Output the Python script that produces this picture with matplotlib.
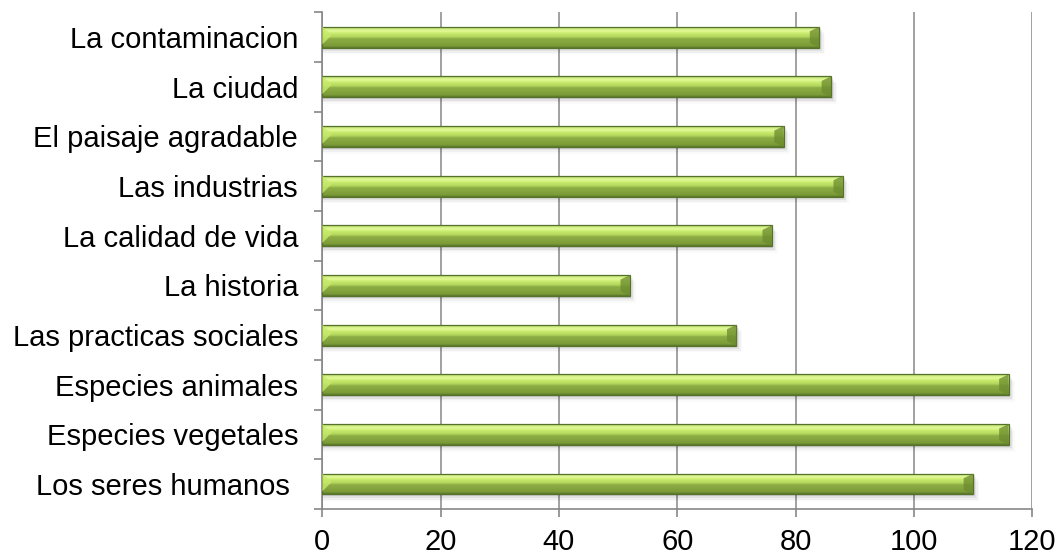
import numpy as np
import matplotlib
matplotlib.use("Agg")
import matplotlib.pyplot as plt
from matplotlib.colors import LinearSegmentedColormap
from matplotlib.patches import Polygon

categories = ["Los seres humanos ", "Especies vegetales", "Especies animales",
              "Las practicas sociales", "La historia", "La calidad de vida",
              "Las industrias", "El paisaje agradable", "La ciudad", "La contaminacion"]
values = [110, 116, 116, 70, 52, 76, 88, 78, 86, 84]
xticks = [0, 20, 40, 60, 80, 100, 120]

plt.rcParams['font.family'] = ['Liberation Sans', 'DejaVu Sans']

fig = plt.figure(figsize=(10.62, 5.58), dpi=100)
ax = fig.add_axes([0.3035, 0.088, 0.6685, 0.89])

ypos = np.arange(len(categories))
bh = 0.42
grid_c = "#878787"

# gradient colormap (bottom -> top of bar)
cmap = LinearSegmentedColormap.from_list("bar", [
    (0.0, "#5b7828"), (0.10, "#7c9b38"), (0.45, "#8dae45"),
    (0.52, "#b0d45c"), (0.70, "#c8ea6c"), (0.82, "#e2fa98"),
    (0.92, "#cfec80"), (1.0, "#a8c868")])
grad = np.linspace(0, 1, 64).reshape(-1, 1)

bars = ax.barh(ypos, values, height=bh, color="none", edgecolor="none", zorder=3)
for b in bars:
    x0, y0, w, h = b.get_x(), b.get_y(), b.get_width(), b.get_height()
    # soft shadow
    for k, a in enumerate([0.09, 0.06, 0.04, 0.02]):
        ax.add_patch(plt.Rectangle((x0, y0 - 0.035 * (k + 1)), w + 0.25 * (k + 1), h,
                                   facecolor="#000000", alpha=a, edgecolor="none", zorder=2))
    im = ax.imshow(grad, cmap=cmap, aspect="auto", origin="lower",
                   extent=(x0, x0 + w, y0, y0 + h), zorder=3, interpolation="bilinear")
    im.set_clip_path(b)
    ax.add_patch(plt.Rectangle((x0, y0), w, h, facecolor="none",
                               edgecolor="#56722a", linewidth=0.9, zorder=4))
    # bevel ends
    d = 1.6
    ax.add_patch(Polygon([(x0 + w, y0), (x0 + w, y0 + h), (x0 + w - d, y0 + h * 0.78),
                          (x0 + w - d, y0 + h * 0.22)], closed=True,
                         facecolor="#6b8a2e", edgecolor="none", alpha=0.75, zorder=4))
    ax.add_patch(Polygon([(x0, y0 + h * 0.15), (x0, y0 + h), (x0 + d, y0 + h * 0.6)], closed=True,
                         facecolor="#c8ea6c", edgecolor="none", alpha=0.8, zorder=4))

ax.set_xlim(0, 120)
ax.set_ylim(-0.5, len(categories) - 0.5)
ax.set_xticks(xticks)
ax.set_xticklabels([str(t) for t in xticks], fontsize=21)
ax.set_yticks(ypos)
ax.set_yticklabels(categories, fontsize=21)
ax.set_yticks(np.arange(-0.5, len(categories), 1.0), minor=True)
ax.tick_params(axis="y", which="major", length=0, pad=17.5)
ax.tick_params(axis="y", which="minor", length=6, width=1.2, color=grid_c, direction="out")
ax.tick_params(axis="x", which="major", length=6, width=1.2, color=grid_c, direction="out", pad=8)

ax.xaxis.grid(True, color=grid_c, linewidth=1.1, zorder=0)
ax.set_axisbelow(True)
for s in ["top", "right"]:
    ax.spines[s].set_visible(False)
for s in ["left", "bottom"]:
    ax.spines[s].set_color(grid_c)
    ax.spines[s].set_linewidth(1.2)

fig.savefig("out.png", dpi=100)
